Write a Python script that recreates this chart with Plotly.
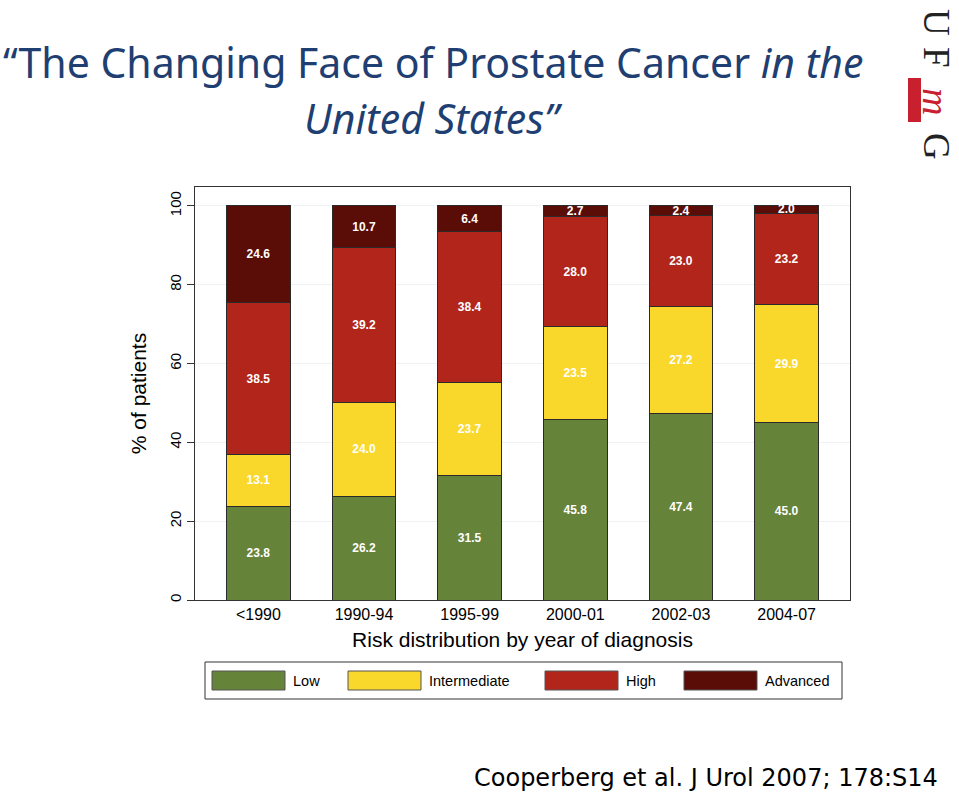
import plotly.graph_objects as go

categories = ["<1990", "1990-94", "1995-99", "2000-01", "2002-03", "2004-07"]
low = [23.8, 26.2, 31.5, 45.8, 47.4, 45.0]
intermediate = [13.1, 24.0, 23.7, 23.5, 27.2, 29.9]
high = [38.5, 39.2, 38.4, 28.0, 23.0, 23.2]
advanced = [24.6, 10.7, 6.4, 2.7, 2.4, 2.0]
series_names = ["Low", "Intermediate", "High", "Advanced"]
series_values = [low, intermediate, high, advanced]
colors = ["#66833a", "#fad72b", "#b1251b", "#5a0d06"]
y_ticks = [0, 20, 40, 60, 80, 100]

W, H = 959, 794
L, R, T, B = 195, 109, 187, 194
PW, PH = W - L - R, H - T - B

def px(x):
    return (x - L) / PW

def py(y):
    return (H - B - y) / PH

fig = go.Figure()
for name, vals, col in zip(series_names, series_values, colors):
    fig.add_trace(go.Bar(
        x=categories, y=vals, name=name,
        marker=dict(color=col, line=dict(color="#2a2a2a", width=1)),
        texttemplate="%{y:.1f}",
        textposition="inside", insidetextanchor="middle",
        textfont=dict(family="Liberation Sans, Arial", size=12, color="white", weight="bold"),
        width=0.6, showlegend=False,
    ))

fig.update_layout(
    barmode="stack",
    width=W, height=H,
    margin=dict(l=L, r=R, t=T, b=B, pad=0),
    paper_bgcolor="white", plot_bgcolor="white",
    uniformtext=dict(mode="show", minsize=12),
    font=dict(family="Liberation Sans, Arial", color="black"),
)
fig.update_xaxes(
    type="category",
    tickvals=categories,
    ticktext=[c.replace("<", "&lt;") for c in categories],
    range=[-0.6, 5.6], showline=True, linecolor="#333", linewidth=1, mirror=True,
    ticks="", tickfont=dict(size=16, color="black"), showgrid=False,
    title=dict(text="Risk distribution by year of diagnosis", font=dict(size=21, color="black"), standoff=10),
)
fig.update_yaxes(
    range=[0, 104.8], tickvals=y_ticks, ticks="outside", ticklen=7, tickcolor="#333",
    tickangle=-90, tickfont=dict(size=15, color="black"),
    showline=True, linecolor="#333", linewidth=1, mirror=True,
    showgrid=True, gridcolor="#eef2f4", gridwidth=1, zeroline=False,
    title=dict(text="% of patients", font=dict(size=21, color="black"), standoff=14),
)

# Title
title_font = dict(family="Noto Sans", size=41, color="#1f3f73")
fig.add_annotation(
    x=px(433), y=py(62), xref="paper", yref="paper", showarrow=False,
    text="“The Changing Face of Prostate Cancer <i>in the</i>",
    font=title_font, xanchor="center", yanchor="middle",
)
fig.add_annotation(
    x=px(433), y=py(118), xref="paper", yref="paper", showarrow=False,
    text="<i>United States”</i>",
    font=title_font, xanchor="center", yanchor="middle",
)

# Logo
logo_font = dict(family="Liberation Serif", size=37, color="#222")
for letter, yc in [("U", 22), ("F", 57), ("G", 146)]:
    fig.add_annotation(x=px(937), y=py(yc), xref="paper", yref="paper", showarrow=False,
                       text=letter, textangle=90, font=logo_font,
                       xanchor="center", yanchor="middle")
fig.add_shape(type="rect", xref="paper", yref="paper", x0=px(908), x1=px(921), y0=py(78), y1=py(122),
              fillcolor="#c8202f", line=dict(width=0))
fig.add_annotation(x=px(936), y=py(101), xref="paper", yref="paper", showarrow=False,
                   text="<i>m</i>", textangle=90,
                   font=dict(family="Liberation Serif", size=38, color="#c8202f"),
                   xanchor="center", yanchor="middle")

# Legend box
fig.add_shape(type="rect", xref="paper", yref="paper", x0=px(205), x1=px(842), y0=py(662), y1=py(699),
              line=dict(color="#333", width=1), fillcolor="white")
sw_x = [212, 348, 545, 684]
for name, col, sx in zip(series_names, colors, sw_x):
    fig.add_shape(type="rect", xref="paper", yref="paper", x0=px(sx), x1=px(sx + 73),
                  y0=py(671), y1=py(690), fillcolor=col, line=dict(color="#555", width=1))
    fig.add_annotation(x=px(sx + 79), y=py(681), xref="paper", yref="paper", showarrow=False,
                       text=name, xanchor="left", yanchor="middle",
                       font=dict(size=14.5, color="black"))

# Citation
fig.add_annotation(x=px(940), y=py(778), xref="paper", yref="paper", showarrow=False,
                   text="Cooperberg et al. J Urol 2007; 178:S14", xanchor="right", yanchor="middle",
                   font=dict(family="DejaVu Sans", size=24, color="black"))

fig.write_html("out.html")
